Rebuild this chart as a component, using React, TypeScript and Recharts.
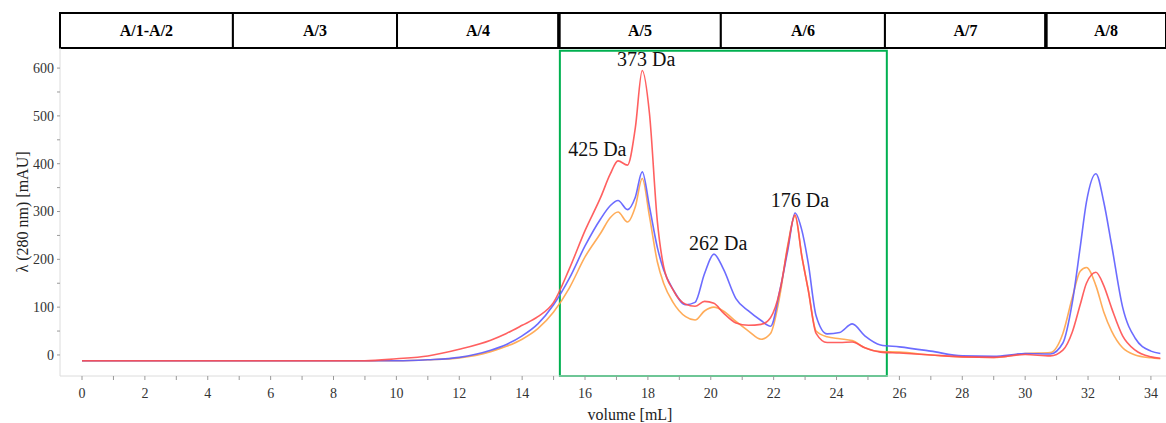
import { LineChart, Line, XAxis, YAxis, ReferenceArea, ReferenceDot, ReferenceLine } from 'recharts'

// elution volume (mL) and absorbance at 280 nm (mAU) for the three runs
const volume = [
  0, 2, 4, 6, 8, 9, 10, 11, 12, 13, 13.5, 14, 14.5, 15, 15.5, 16, 16.5, 16.8, 17.05, 17.35,
  17.6, 17.82, 18.05, 18.3, 18.5, 18.8, 19.2, 19.5, 19.8, 20.1, 20.4, 20.8, 21.2, 21.6, 21.9,
  22.2, 22.45, 22.68, 22.9, 23.1, 23.35, 23.7, 24.1, 24.5, 24.9, 25.4, 26, 27, 28, 29, 30,
  30.8, 31.2, 31.5, 31.75, 31.95, 32.25, 32.5, 32.75, 33.1, 33.5, 34, 34.3,
]
const runRed = [
  -12, -12, -12, -12, -12, -12, -8, -2, 12, 31, 45, 62, 80, 110, 180, 260, 330, 378, 406, 397,
  475, 595, 505, 280, 185, 136, 106, 102, 112, 108, 88, 67, 62, 64, 78,
  135, 226, 293, 205, 136, 45, 26, 26, 27, 15, 6, 4, 0, -4, -5, 1,
  -2, 10, 48, 105, 150, 173, 145, 98, 40, 10, -4, -7,
]
const runBlue = [
  -12, -12, -12, -12, -12, -12, -12, -10, -5, 10, 22, 40, 65, 105, 160, 228, 285, 312, 323, 304,
  330, 383, 310, 225, 178, 137, 105, 110, 170, 211, 180, 118, 92, 72, 60,
  136, 219, 297, 260, 192, 82, 44, 47, 65, 40, 21, 17, 8, -2, -3, 3,
  2, 25, 110, 225, 320, 379, 320, 230, 100, 35, 8, 3,
]
const runOrange = [
  -12, -12, -12, -12, -12, -12, -12, -10, -6, 7, 18, 33, 55, 90, 140, 205, 255, 287, 299, 278,
  310, 369, 290, 195, 150, 110, 80, 73, 92, 100, 92, 70, 50, 33, 45,
  125, 230, 290, 205, 136, 50, 38, 34, 30, 15, 7, 6, 0, -4, -5, 3,
  5, 45, 120, 175, 183, 145, 90, 50, 15, 0, -6, -8,
]

// fraction bands along the top of the plot
const fractionNames = ['A/1-A/2', 'A/3', 'A/4', 'A/5', 'A/6', 'A/7', 'A/8']
const fractionEdges = [-0.7, 4.8, 10.02, 15.17, 20.32, 25.54, 30.66, 34.48]
const boldEdges = [15.17, 30.66]

// molecular weight labels at the peaks
const peakNames = ['425 Da', '373 Da', '262 Da', '176 Da']
const peakVolumes = [17.06, 17.85, 20.08, 22.71]
const peakHeights = [408, 596, 211, 301]

const xTicks = Array.from({ length: 35 }, (_, i) => i)
const yTicks = Array.from({ length: 13 }, (_, i) => i * 50)

const X_DOMAIN: [number, number] = [-0.7, 34.48]
const Y_DOMAIN: [number, number] = [-44, 642]
const SERIF = 'Liberation Serif, Times New Roman, serif'

const rows = volume.map((v, i) => ({
  volume: v,
  red: runRed[i],
  blue: runBlue[i],
  orange: runOrange[i],
}))

const labelNudge: Record<string, number> = { '425 Da': -21, '373 Da': 3, '262 Da': 5, '176 Da': 4 }

// tick renderers: only even volumes / hundreds get a number, the rest stay minor ticks
const XTick = (p: any) =>
  p.payload.value % 2 === 0 ? (
    <text x={p.x} y={p.y} dy="0.75em" textAnchor="middle" fontSize={14} fontFamily={SERIF} fill="#333">
      {p.payload.value}
    </text>
  ) : (
    <g />
  )

const YTick = (p: any) =>
  p.payload.value % 100 === 0 ? (
    <text x={p.x} y={p.y} dy="0.35em" textAnchor="end" fontSize={14} fontFamily={SERIF} fill="#333">
      {p.payload.value}
    </text>
  ) : (
    <g />
  )

export default function App() {
  return (
    <div style={{ position: 'absolute', left: 0, top: 0, background: '#fff' }}>
      <LineChart
        width={1166}
        height={423}
        data={rows}
        margin={{ top: 48, right: 0, bottom: 0, left: 0 }}
      >
        <XAxis
          dataKey="volume"
          type="number"
          domain={X_DOMAIN}
          ticks={xTicks}
          interval={0}
          height={47}
          axisLine={{ stroke: '#dcdcdc' }}
          tickLine={{ stroke: '#9a9a9a' }}
          tickSize={4}
          tickMargin={7}
          tick={XTick}
          label={{
            position: 'insideBottom',
            content: (p: any) => (
              <text
                x={p.viewBox.x + p.viewBox.width / 2 + 17}
                y={p.viewBox.y + p.viewBox.height - 3}
                textAnchor="middle"
                fontSize={16}
                fontFamily={SERIF}
                fill="#222"
              >
                volume [mL]
              </text>
            ),
          }}
        />
        <YAxis
          type="number"
          domain={Y_DOMAIN}
          ticks={yTicks}
          interval={0}
          width={60}
          axisLine={{ stroke: '#dcdcdc' }}
          tickLine={{ stroke: '#9a9a9a' }}
          tickSize={3}
          tickMargin={3}
          tick={YTick}
          label={{
            position: 'insideLeft',
            content: (p: any) => {
              const cx = p.viewBox.x + 22
              const cy = p.viewBox.y + p.viewBox.height / 2
              return (
                <text
                  x={cx}
                  y={cy}
                  dy="0.35em"
                  transform={`rotate(-90 ${cx} ${cy})`}
                  textAnchor="middle"
                  fontSize={16}
                  fontFamily={SERIF}
                  fill="#222"
                >
                  λ (280 nm) [mAU]
                </text>
              )
            },
          }}
        />

        {fractionNames.map((name, i) => (
          <ReferenceArea
            key={name}
            x1={fractionEdges[i]}
            x2={fractionEdges[i + 1]}
            y1={642}
            y2={715}
            ifOverflow="visible"
            fill="#fff"
            fillOpacity={1}
            stroke="#000"
            strokeWidth={2}
            label={{
              position: 'center',
              content: (p: any) => (
                <text
                  x={p.viewBox.x + p.viewBox.width / 2}
                  y={p.viewBox.y + p.viewBox.height / 2}
                  dy="0.35em"
                  textAnchor="middle"
                  fontSize={16}
                  fontWeight="bold"
                  fontFamily={SERIF}
                  fill="#000"
                >
                  {name}
                </text>
              ),
            }}
          />
        ))}
        {boldEdges.map((v) => (
          <ReferenceLine
            key={v}
            segment={[
              { x: v, y: 642 },
              { x: v, y: 715 },
            ]}
            ifOverflow="visible"
            stroke="#000"
            strokeWidth={3.5}
          />
        ))}

        <ReferenceArea
          x1={15.2}
          x2={25.6}
          y1={-44}
          y2={636}
          ifOverflow="visible"
          fill="none"
          stroke="#00b050"
          strokeWidth={2}
        />

        <Line
          dataKey="orange"
          type="monotone"
          stroke="#ffa347"
          strokeWidth={1.6}
          strokeOpacity={0.9}
          dot={false}
          isAnimationActive={false}
        />
        <Line
          dataKey="blue"
          type="monotone"
          stroke="#5c5cff"
          strokeWidth={1.6}
          strokeOpacity={0.9}
          dot={false}
          isAnimationActive={false}
        />
        <Line
          dataKey="red"
          type="monotone"
          stroke="#ff4f4f"
          strokeWidth={1.6}
          strokeOpacity={0.9}
          dot={false}
          isAnimationActive={false}
        />

        {peakNames.map((name, i) => (
          <ReferenceDot
            key={name}
            x={peakVolumes[i]}
            y={peakHeights[i]}
            r={0}
            ifOverflow="visible"
            shape={(p: any) => (
              <text
                x={p.cx + (labelNudge[name] ?? 0)}
                y={p.cy - 4}
                textAnchor="middle"
                fontSize={20}
                fontFamily={SERIF}
                fill="#111"
              >
                {name}
              </text>
            )}
          />
        ))}
      </LineChart>
    </div>
  )
}
